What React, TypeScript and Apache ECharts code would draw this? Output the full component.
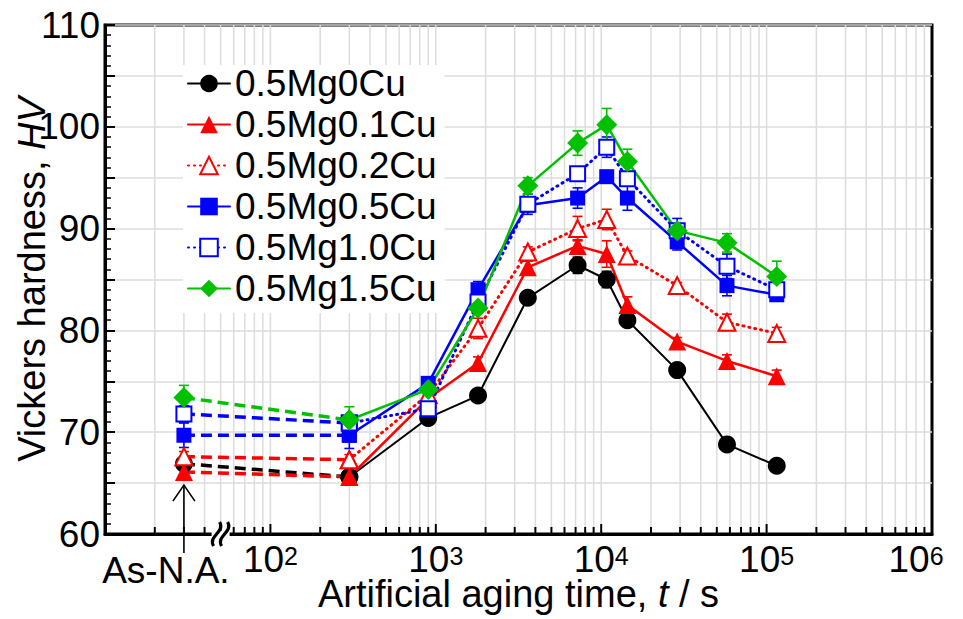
import React, { useEffect, useRef } from 'react';
import * as echarts from 'echarts';

// ---- Data ----
const agingTimes = [300, 900, 1800, 3600, 7200, 10800, 14400, 28800, 57600, 115200];
const asNaPosition = 30; // where "As-N.A." sits on the log axis
const seriesNames = ['0.5Mg0Cu', '0.5Mg0.1Cu', '0.5Mg0.2Cu', '0.5Mg0.5Cu', '0.5Mg1.0Cu', '0.5Mg1.5Cu'];

const asNa0Cu = 66.9;
const hv0Cu = [65.6, 71.4, 73.6, 83.2, 86.4, 85.0, 81.0, 76.1, 68.8, 66.7];
const err0Cu = [0.3, 0.3, 0.3, 0.5, 0.5, 0.8, 0.8, 0.3, 0.6, 0.3, 0.3];

const asNa01Cu = 66.1;
const hv01Cu = [65.6, 73.3, 76.8, 86.2, 88.3, 87.5, 82.5, 78.9, 77.0, 75.5];
const err01Cu = [0.5, 0.3, 0.5, 0.6, 0.6, 0.6, 1.3, 0.8, 0.4, 0.6, 0.6];

const asNa02Cu = 67.6;
const hv02Cu = [67.3, 73.7, 80.2, 87.7, 90.0, 90.9, 87.3, 84.4, 80.8, 79.7];
const err02Cu = [0.5, 0.5, 0.5, 1.0, 0.5, 1.2, 1.0, 0.5, 0.3, 0.8, 0.6];

const asNa05Cu = 69.7;
const hv05Cu = [69.7, 74.8, 84.0, 92.3, 93.0, 95.1, 93.0, 88.7, 84.4, 83.5];
const err05Cu = [1.2, 1.3, 0.6, 0.8, 0.5, 1.0, 0.5, 1.2, 0.8, 1.0, 0.5];

const asNa10Cu = 71.8;
const hv10Cu = [70.9, 72.3, 82.8, 92.4, 95.4, 98.0, 94.9, 89.8, 86.3, 84.0];
const err10Cu = [0.8, 0.5, 0.5, 0.5, 1.0, 0.5, 1.0, 0.6, 1.2, 1.2, 0.5];

const asNa15Cu = 73.4;
const hv15Cu = [71.2, 74.2, 82.2, 94.2, 98.4, 100.2, 96.6, 89.8, 88.6, 85.3];
const err15Cu = [1.2, 1.3, 0.6, 0.5, 0.8, 1.2, 1.6, 1.2, 0.5, 0.9, 1.5];

const yMin = 60;
const yMax = 110;
const xMin = 10;
const xMax = 1e6;
const arrowTipHV = 64.8;
const breakPosition = 50;

const FONT = '"Liberation Sans", Arial, Helvetica, sans-serif';
const LABEL_SIZE = 37;
const NAME_SIZE = 38;

type Style = {
  color: string;
  symbol: string;
  size: number;
  open: boolean;
  lineType: 'solid' | 'dotted';
  lineWidth: number;
};

const styles: Style[] = [
  { color: '#000000', symbol: 'circle', size: 18, open: false, lineType: 'solid', lineWidth: 2 },
  { color: '#ff0000', symbol: 'triangle', size: 18, open: false, lineType: 'solid', lineWidth: 2.5 },
  { color: '#ff0000', symbol: 'triangle', size: 17, open: true, lineType: 'dotted', lineWidth: 3 },
  { color: '#0000ff', symbol: 'rect', size: 15, open: false, lineType: 'solid', lineWidth: 2.5 },
  { color: '#0000ff', symbol: 'rect', size: 15, open: true, lineType: 'dotted', lineWidth: 3 },
  { color: '#00c000', symbol: 'diamond', size: 21, open: false, lineType: 'solid', lineWidth: 2.5 },
];

const asNaValues = [asNa0Cu, asNa01Cu, asNa02Cu, asNa05Cu, asNa10Cu, asNa15Cu];
const hvValues = [hv0Cu, hv01Cu, hv02Cu, hv05Cu, hv10Cu, hv15Cu];
const errValues = [err0Cu, err01Cu, err02Cu, err05Cu, err10Cu, err15Cu];

// log-axis minor/major grid positions
const gridPositions: number[] = [];
for (let d = 10; d < xMax; d *= 10) {
  for (let k = 1; k <= 9; k++) {
    const v = k * d;
    if (v > xMin && v < xMax) gridPositions.push(v);
  }
}

function buildOption() {
  const series: any[] = [];

  series.push({
    type: 'custom',
    name: 'grid',
    silent: true,
    z: 1,
    clip: false,
    data: gridPositions.map((v) => [v, yMin]),
    encode: { x: 0, y: 1 },
    renderItem: (params: any, api: any) => {
      const x = api.value(0);
      const top = api.coord([x, yMax]);
      const bot = api.coord([x, yMin]);
      const lg = Math.log10(x);
      const major = Math.abs(lg - Math.round(lg)) < 1e-9;
      return {
        type: 'group',
        children: [
          {
            type: 'line',
            shape: { x1: top[0], y1: top[1], x2: bot[0], y2: bot[1] },
            style: { stroke: '#dcdcdc', lineWidth: 1.5 },
          },
          {
            type: 'line',
            shape: { x1: bot[0], y1: bot[1], x2: bot[0], y2: bot[1] - (major ? 10 : 7) },
            style: { stroke: '#000', lineWidth: 2 },
          },
        ],
      };
    },
  });

  seriesNames.forEach((name, i) => {
    const st = styles[i];
    const itemStyle = st.open
      ? { color: '#ffffff', borderColor: st.color, borderWidth: 2 }
      : { color: st.color, borderColor: st.color, borderWidth: 0 };
    const errData = [[asNaPosition, asNaValues[i], errValues[i][0]]].concat(
      agingTimes.map((t, j) => [t, hvValues[i][j], errValues[i][j + 1]])
    );
    series.push({
      type: 'custom',
      name: name + '-err',
      silent: true,
      z: 3,
      data: errData,
      encode: { x: 0, y: 1 },
      renderItem: (params: any, api: any) => {
        const x = api.value(0);
        const y = api.value(1);
        const e = api.value(2);
        const hi = api.coord([x, y + e]);
        const lo = api.coord([x, y - e]);
        const cap = 5;
        const s = { stroke: st.color, lineWidth: 1.6 };
        return {
          type: 'group',
          children: [
            { type: 'line', shape: { x1: hi[0], y1: hi[1], x2: lo[0], y2: lo[1] }, style: s },
            { type: 'line', shape: { x1: hi[0] - cap, y1: hi[1], x2: hi[0] + cap, y2: hi[1] }, style: s },
            { type: 'line', shape: { x1: lo[0] - cap, y1: lo[1], x2: lo[0] + cap, y2: lo[1] }, style: s },
          ],
        };
      },
    });
    series.push({
      type: 'line',
      name: name + '-asna',
      z: 3,
      silent: true,
      data: [
        [asNaPosition, asNaValues[i]],
        [agingTimes[0], hvValues[i][0]],
      ],
      symbol: st.symbol,
      symbolSize: st.size,
      showSymbol: true,
      itemStyle,
      lineStyle: { color: st.color, width: 3.5, type: [11, 6] },
    });
    series.push({
      type: 'line',
      name,
      z: 3,
      data: agingTimes.map((t, j) => [t, hvValues[i][j]]),
      symbol: st.symbol,
      symbolSize: st.size,
      showSymbol: true,
      showAllSymbol: true,
      itemStyle,
      lineStyle: {
        color: st.color,
        width: st.lineWidth,
        type: st.lineType === 'dotted' ? [1, 5] : 'solid',
        cap: 'round',
      },
    });
  });

  const supStyle = { fontSize: 25, lineHeight: 26, verticalAlign: 'top', color: '#000', fontFamily: FONT };

  return {
    animation: false,
    backgroundColor: '#ffffff',
    textStyle: { fontFamily: FONT },
    grid: {
      left: 105,
      right: 31,
      top: 25,
      bottom: 85,
      outerBoundsMode: 'none',
      containLabel: false,
      show: true,
      borderColor: '#000',
      borderWidth: 3,
      backgroundColor: 'transparent',
    },
    legend: {
      data: seriesNames,
      orient: 'vertical',
      left: 183,
      top: 65,
      itemWidth: 42,
      itemHeight: 22,
      itemGap: 4,
      backgroundColor: '#ffffff',
      padding: [0, 8, 6, 4],
      selectedMode: false,
      textStyle: { fontSize: LABEL_SIZE, color: '#000', fontFamily: FONT },
    },
    xAxis: {
      type: 'log',
      logBase: 10,
      min: xMin,
      max: xMax,
      axisLine: { show: true, lineStyle: { color: '#000', width: 3 } },
      axisTick: { show: false },
      splitLine: { show: false },
      axisLabel: {
        margin: 9,
        color: '#000',
        fontSize: LABEL_SIZE,
        lineHeight: 32,
        fontFamily: FONT,
        formatter: (v: number) => {
          const p = Math.round(Math.log10(v));
          if (p <= 1) return '';
          if (v >= xMax) return '10{supEnd|' + p + '}';
          return '10{sup|' + p + '}';
        },
        rich: {
          sup: supStyle,
          supEnd: { ...supStyle, padding: [0, 32, 0, 0] },
        },
      },
      name: 'Artificial aging time, {i|t} / s',
      nameLocation: 'middle',
      nameGap: 42,
      nameMoveOverlap: false,
      nameTextStyle: {
        fontSize: NAME_SIZE,
        lineHeight: 36,
        color: '#000',
        fontFamily: FONT,
        rich: {
          i: { fontStyle: 'italic', fontSize: NAME_SIZE, lineHeight: 36, color: '#000', fontFamily: FONT },
        },
      },
    },
    yAxis: {
      type: 'value',
      min: yMin,
      max: yMax,
      interval: 5,
      axisLine: { show: true, lineStyle: { color: '#000', width: 3 } },
      axisTick: { show: true, inside: true, length: 10, lineStyle: { color: '#000', width: 2 } },
      minorTick: { show: true, splitNumber: 5, length: 6, lineStyle: { color: '#000', width: 1.5 } },
      splitLine: { show: true, lineStyle: { color: '#dcdcdc', width: 1.5 } },
      axisLabel: {
        margin: 5,
        color: '#000',
        fontSize: LABEL_SIZE,
        fontFamily: FONT,
        formatter: (v: number) => (v % 10 === 0 ? String(v) : ''),
      },
      name: 'Vickers hardness, {i|HV}',
      nameLocation: 'middle',
      nameGap: 54,
      nameMoveOverlap: false,
      nameTextStyle: {
        fontSize: NAME_SIZE,
        color: '#000',
        fontFamily: FONT,
        rich: { i: { fontStyle: 'italic', fontSize: NAME_SIZE, color: '#000', fontFamily: FONT } },
      },
    },
    series,
  };
}

export default function App() {
  const ref = useRef<HTMLDivElement>(null);
  useEffect(() => {
    if (!ref.current) return;
    const chart = echarts.init(ref.current, null, { renderer: 'svg' });
    chart.setOption(buildOption() as any);

    const base = chart.convertToPixel({ gridIndex: 0 }, [asNaPosition, yMin]) as number[];
    const tip = chart.convertToPixel({ gridIndex: 0 }, [asNaPosition, arrowTipHV]) as number[];
    const brk = chart.convertToPixel({ gridIndex: 0 }, [breakPosition, yMin]) as number[];
    const ax = base[0];
    const ay = base[1];
    const ty = tip[1];
    const bx = brk[0];
    const by = brk[1];
    const curve = (cx: number) => ({
      type: 'bezierCurve',
      shape: {
        x1: cx + 3,
        y1: by - 12,
        x2: cx - 3,
        y2: by + 12,
        cpx1: cx + 9,
        cpy1: by - 2,
        cpx2: cx - 9,
        cpy2: by + 2,
      },
      style: { stroke: '#000', lineWidth: 3.2, fill: null },
      z: 50,
    });
    chart.setOption({
      graphic: [
        {
          type: 'rect',
          shape: { x: bx - 9, y: by - 3, width: 18, height: 6 },
          style: { fill: '#fff' },
          z: 49,
        },
        curve(bx - 4),
        curve(bx + 4),
        {
          type: 'line',
          shape: { x1: ax, y1: ty, x2: ax, y2: ay + 19 },
          style: { stroke: '#000', lineWidth: 1.6 },
          z: 50,
        },
        {
          type: 'polyline',
          shape: { points: [[ax - 11, ty + 16], [ax, ty], [ax + 11, ty + 16]] },
          style: { stroke: '#000', lineWidth: 1.6, fill: null },
          z: 50,
        },
        {
          type: 'text',
          x: ax - 18,
          y: ay + 36,
          style: {
            text: 'As-N.A.',
            fontSize: LABEL_SIZE,
            fontFamily: FONT,
            fill: '#000',
            align: 'center',
            verticalAlign: 'middle',
          },
          z: 50,
        },
      ],
    } as any);

    return () => {
      chart.dispose();
    };
  }, []);
  return <div ref={ref} style={{ position: 'absolute', left: 0, top: 0, width: 963, height: 619 }} />;
}
